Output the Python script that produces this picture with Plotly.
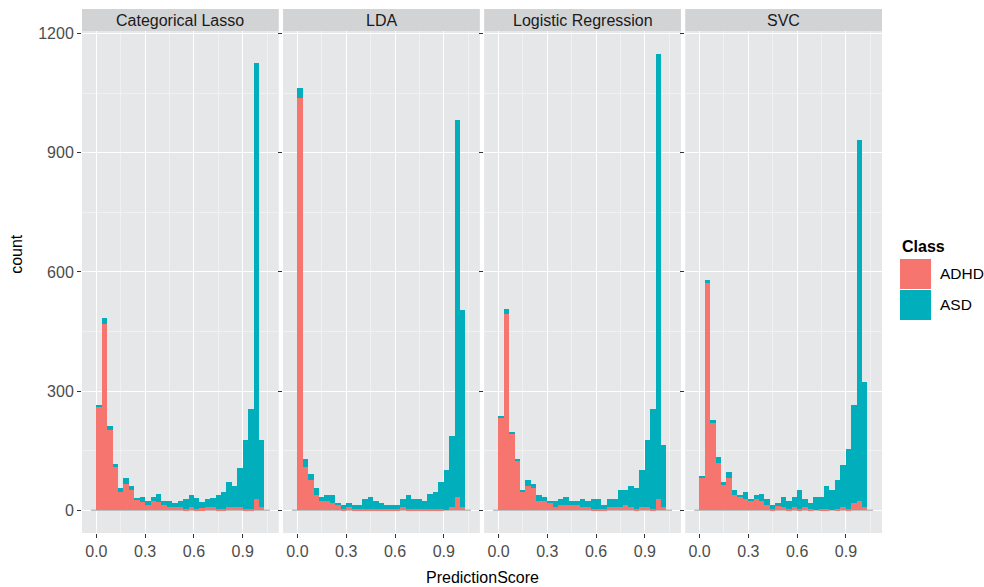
import plotly.graph_objects as go
from plotly.subplots import make_subplots

# ファセットの並び
models = ['Categorical Lasso', 'LDA', 'Logistic Regression', 'SVC']

# ヒストグラムのビン (幅 1/30, 31本)
bin_width = 1 / 30
n_bins = 31
bin_centers = [(k + 0.5) * bin_width for k in range(n_bins)]

# 各ビンの件数：ADHD / ASD
adhd_lasso = [261, 470, 203, 111, 47, 67, 50, 26, 20, 12, 22, 20, 12, 9, 7, 9,
              2, 7, 4, 5, 7, 9, 4, 4, 9, 9, 7, 4, 4, 27, 9]
asd_lasso = [3, 15, 9, 5, 10, 13, 12, 5, 14, 10, 12, 20, 12, 13, 11, 15,
             25, 30, 26, 15, 20, 21, 33, 43, 61, 51, 100, 174, 252, 1099, 167]

adhd_lda = [1038, 110, 75, 39, 22, 22, 19, 12, 4, 9, 4, 4, 4, 4, 4, 2,
            4, 4, 2, 7, 2, 4, 2, 2, 4, 4, 4, 0, 9, 32, 9]
asd_lda = [25, 18, 15, 16, 12, 17, 20, 7, 10, 10, 8, 10, 23, 30, 20, 15,
           8, 8, 10, 20, 35, 25, 27, 22, 38, 41, 66, 100, 179, 951, 494]

adhd_lr = [234, 493, 191, 123, 47, 60, 57, 22, 22, 17, 9, 14, 14, 12, 12, 9,
           7, 2, 4, 2, 7, 7, 9, 12, 7, 4, 7, 7, 4, 29, 9]
asd_lr = [2, 13, 7, 7, 5, 15, 10, 15, 12, 7, 13, 15, 18, 12, 12, 18,
          15, 27, 25, 12, 22, 22, 41, 38, 55, 51, 93, 171, 250, 1120, 154]

adhd_svc = [82, 571, 221, 120, 65, 82, 39, 32, 29, 22, 29, 22, 14, 4, 12, 9,
            4, 9, 4, 7, 4, 0, 4, 4, 0, 2, 9, 4, 17, 22, 9]
asd_svc = [3, 9, 5, 13, 5, 15, 11, 7, 16, 7, 10, 20, 15, 8, 5, 25,
           20, 25, 48, 20, 15, 34, 30, 56, 52, 75, 106, 151, 249, 910, 313]

adhd_counts = [adhd_lasso, adhd_lda, adhd_lr, adhd_svc]
asd_counts = [asd_lasso, asd_lda, asd_lr, asd_svc]

# 目盛り
x_ticks = [0.0, 0.3, 0.6, 0.9]
x_tick_labels = ['0.0', '0.3', '0.6', '0.9']
y_ticks = [0, 300, 600, 900, 1200]

# 装飾 (ggplot風)
adhd_color = '#F6756E'
asd_color = '#00AFBB'
panel_bg = '#E6E7E9'
strip_bg = '#D2D3D5'
pad_line_color = '#BEBEBE'
tick_font_color = '#4D4D4D'
font_family = 'Liberation Sans, Arial, sans-serif'
font_size = 16

fig = make_subplots(rows=1, cols=4, shared_yaxes=True,
                    horizontal_spacing=0.0054)

for i, model in enumerate(models):
    col = i + 1
    # 下段：ADHD
    fig.add_trace(go.Bar(
        x=bin_centers, y=adhd_counts[i], width=bin_width,
        marker=dict(color=adhd_color, line=dict(width=0)),
        name='ADHD', showlegend=False,
    ), row=1, col=col)
    # 上段：ASD
    fig.add_trace(go.Bar(
        x=bin_centers, y=asd_counts[i], width=bin_width,
        marker=dict(color=asd_color, line=dict(width=0)),
        name='ASD', showlegend=False,
    ), row=1, col=col)

    axis_id = '' if col == 1 else str(col)
    # 空ビン (両端) の薄い線
    fig.add_shape(type='line', xref='x' + axis_id, yref='y' + axis_id,
                  x0=-bin_width, x1=(n_bins + 1) * bin_width, y0=0, y1=0,
                  line=dict(color=pad_line_color, width=1.5), layer='between')

    # ファセットのストリップ
    dom = fig.layout['xaxis' + axis_id].domain
    fig.add_shape(type='rect', xref='paper', yref='paper',
                  x0=dom[0], x1=dom[1], y0=1.0, y1=1.0438,
                  fillcolor=strip_bg, line=dict(width=0))
    fig.add_annotation(x=(dom[0] + dom[1]) / 2, y=1.0219, xref='paper', yref='paper',
                       text=model, showarrow=False,
                       xanchor='center', yanchor='middle',
                       font=dict(size=font_size, color='#1A1A1A'))

fig.update_xaxes(
    range=[-0.0883, 1.1217],
    tickvals=x_ticks, ticktext=x_tick_labels,
    ticks='outside', ticklen=4, tickwidth=1.1, tickcolor='#333333',
    tickfont=dict(size=font_size, color=tick_font_color),
    showgrid=True, gridcolor='white', gridwidth=1.4,
    minor=dict(tickvals=[0.15, 0.45, 0.75, 1.05], showgrid=True,
               gridcolor='#F1F1F2', gridwidth=0.8, ticks=''),
    zeroline=False, showline=False,
)
fig.update_yaxes(
    range=[-57.5, 1207],
    tickvals=y_ticks,
    ticks='outside', ticklen=4, tickwidth=1.1, tickcolor='#333333',
    tickfont=dict(size=font_size, color=tick_font_color),
    showgrid=True, gridcolor='white', gridwidth=1.4,
    minor=dict(tickvals=[150, 450, 750, 1050], showgrid=True,
               gridcolor='#F1F1F2', gridwidth=0.8, ticks=''),
    zeroline=False, showline=False,
)

# 軸タイトル
fig.add_annotation(x=0.5, y=-0.0896, xref='paper', yref='paper',
                   text='PredictionScore', showarrow=False,
                   xanchor='center', yanchor='middle',
                   font=dict(size=font_size, color='#000000'))
fig.add_annotation(x=-0.0813, y=0.556, xref='paper', yref='paper',
                   text='count', showarrow=False, textangle=-90,
                   xanchor='center', yanchor='middle',
                   font=dict(size=font_size, color='#000000'))

# 凡例 (手作り)
fig.add_annotation(x=1.0225, y=0.5717, xref='paper', yref='paper',
                   text='<b>Class</b>', showarrow=False,
                   xanchor='left', yanchor='middle',
                   font=dict(size=font_size, color='#000000'))
legend_items = [('ADHD', adhd_color, 0.5458, 0.4861),
                ('ASD', asd_color, 0.4841, 0.4243)]
for label, color, y_top, y_bot in legend_items:
    fig.add_shape(type='rect', xref='paper', yref='paper',
                  x0=1.0225, x1=1.0613, y0=y_bot, y1=y_top,
                  fillcolor=color, line=dict(width=0))
    fig.add_annotation(x=1.0695, y=(y_top + y_bot) / 2, xref='paper', yref='paper',
                       text=label, showarrow=False,
                       xanchor='left', yanchor='middle',
                       font=dict(size=15.5, color='#000000'))

fig.update_layout(
    barmode='stack',
    bargap=0,
    width=984, height=587,
    paper_bgcolor='white',
    plot_bgcolor=panel_bg,
    font=dict(family=font_family, size=font_size, color='#000000'),
    margin=dict(l=82, r=102, t=31, b=54),
    showlegend=False,
)

# ページの余白 (body の margin) を消してウィンドウにぴったり合わせる
fig.write_html('out.html', config={'displayModeBar': False},
               post_script="document.body.style.margin='0';")
